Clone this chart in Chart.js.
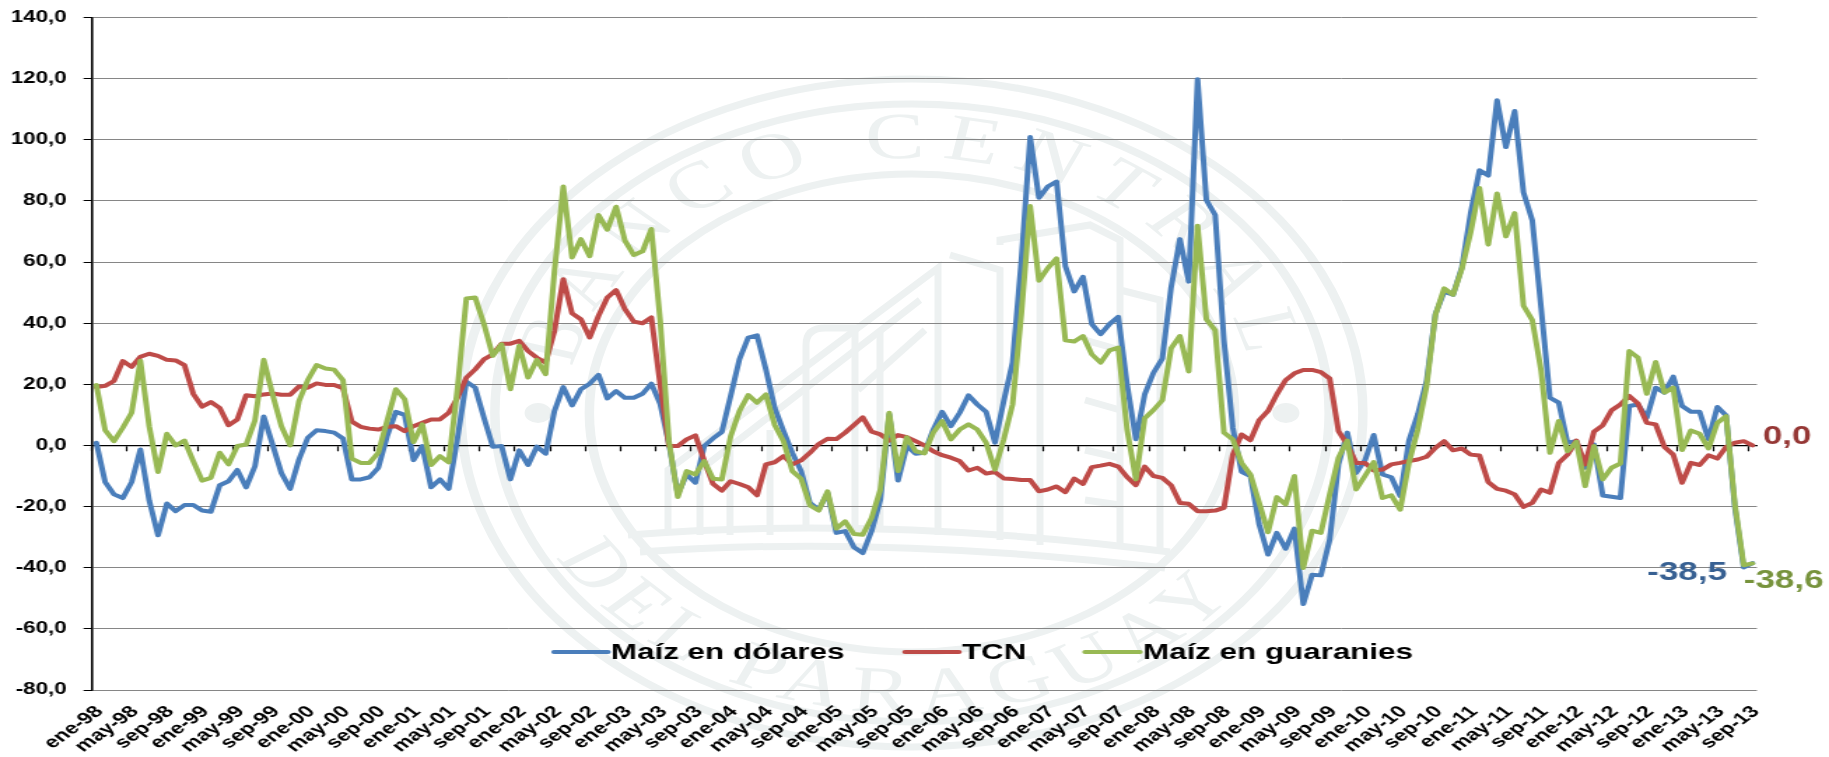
<!DOCTYPE html>
<html lang="es">
<head>
<meta charset="utf-8">
<title>Maíz en dólares, TCN y Maíz en guaranies</title>
<script src="https://cdn.jsdelivr.net/npm/chart.js@4"></script>
<style>
html,body{margin:0;padding:0;background:#fff;overflow:hidden;width:1829px;height:757px}
#seal{position:absolute;left:0;top:0}
#wrap{position:absolute;left:0;top:0;width:1307px;height:757px;transform-origin:0 0;transform:scaleX(1.39939)}
canvas{display:block}
</style>
</head>
<body>
<svg id="seal" width="1829" height="757" viewBox="0 0 1829 757" aria-hidden="true">
  <g transform="translate(912 413) scale(1.35 1)" fill="none" stroke="#edf1f1">
    <circle r="334" stroke-width="7"/>
    <circle r="309" stroke-width="7"/>
    <circle r="239" stroke-width="7"/>
    <path id="arcTop" d="M -255 0 A 255 255 0 0 1 255 0" stroke="none"/>
    <path id="arcBot" d="M -300 0 A 300 300 0 0 0 300 0" stroke="none"/>
    <text font-family="Liberation Serif" font-size="66" fill="#edf1f1" stroke="none" letter-spacing="12"><textPath href="#arcTop" startOffset="50%" text-anchor="middle">BANCO CENTRAL</textPath></text>
    <text font-family="Liberation Serif" font-size="66" fill="#edf1f1" stroke="none" letter-spacing="9"><textPath href="#arcBot" startOffset="48%" text-anchor="middle">DEL PARAGUAY</textPath></text>
    <ellipse cx="-277" cy="0" rx="10" ry="10" fill="#edf1f1" stroke="none"/>
    <ellipse cx="277" cy="0" rx="10" ry="10" fill="#edf1f1" stroke="none"/>
  </g>
  <g fill="none" stroke="#edf1f1" stroke-width="7">
    <path d="M628 535 Q880 515 1170 552"/>
    <path d="M640 552 Q880 535 1165 568"/>
    <path d="M668 535 L668 470 L938 268 L938 535"/>
    <path d="M700 535 L700 470 L920 300"/>
    <path d="M806 530 L806 345 Q806 328 825 328 L855 328 L855 530"/>
    <path d="M858 390 L925 330"/>
    <path d="M950 255 L1000 270 L1000 540"/>
    <path d="M1000 245 L1000 240 L1090 225 L1120 240 L1120 548"/>
    <path d="M1040 270 L1040 545"/>
    <path d="M1120 290 L1160 300 L1160 550"/>
    <path d="M1085 340 L1120 350 M1085 400 L1120 410 M1085 450 L1120 458 M1085 500 L1120 505"/>
    <path d="M730 535 L730 450 M770 535 L770 430 M880 530 L880 330"/>
  </g>
</svg>
<div id="wrap"><canvas id="c" width="1307" height="757"></canvas></div>
<script>
const monthNames = ["ene","feb","mar","abr","may","jun","jul","ago","sep","oct","nov","dic"];
const years = ["98","99","00","01","02","03","04","05","06","07","08","09","10","11","12","13"];
const categories = [];
years.forEach(y => monthNames.forEach(m => { if (categories.length < 189) categories.push(m + "-" + y); }));

const maizDolares = [
 0.9,-12,-16,-17.2,-12,-1.3,-18,-29.4,-19,-21.5,-19.5,-19.5,
 -21.3,-21.7,-13,-11.7,-8,-13.7,-6.8,9.5,0.3,-9,-14.2,-4.6,
 2.5,5,4.7,4.2,2.3,-11.1,-11.1,-10.4,-7.3,3,11,10,
 -4.8,-0.2,-13.7,-11.1,-14.2,2.5,20.9,18.9,9,-0.4,-0.2,-11.1,
 -1.6,-6.4,-0.4,-2.7,11.3,19.1,13.1,18.4,20.2,23.1,15.4,17.8,
 15.6,15.6,16.9,20.2,13.6,0.5,-16,-9.5,-12.2,-0.2,2.3,4.4,
 16.2,28.2,35.3,36,24.9,12.3,4.7,-2.4,-8.4,-18.8,-21,-15.5,
 -28.6,-28,-33.3,-35.2,-28,-17.7,10.2,-11.5,-0.2,-2.7,-2.4,5.2,
 11,6.3,10.7,16.4,13.4,11,0.9,14.5,27.1,60.4,100.9,81,
 84.7,86.3,58.6,50.4,55.2,39.7,36.4,39.7,42.1,20,2,16.7,
 23.8,28.4,51.7,67.5,53.6,119.8,80.3,75.4,34.2,5.8,-8.6,-10,
 -25.9,-35.7,-28.6,-33.8,-27.2,-51.9,-42.3,-42.5,-30.8,-6.2,4.2,-9,
 -4.9,3.4,-9.5,-10.4,-16.6,1.6,10.2,21.1,43,50.3,49.3,58.2,
 76,90,88.3,112.9,97.6,109.4,82.8,73.6,45,15.6,14,0.9,
 1.4,-7.3,0.3,-16.4,-16.8,-17.2,12.9,13.4,9.1,18.9,17.3,22.5,
 12.9,11,11,2,12.6,9.8,-20.4,-39.9,-38.5
];
const tcn = [
 19.1,19.5,21.1,27.6,25.7,29,30,29.3,28,27.8,26.3,16.9,
 12.7,14.2,12.3,6.6,8.5,16.4,16.1,16.7,17,16.6,16.6,19.3,
 18.9,20.3,19.8,19.8,18.7,7.8,6.1,5.5,5.2,6.1,6.3,4.7,
 6.3,7.4,8.5,8.5,10.7,15.6,22.2,24.9,28.2,29.8,33.3,33.3,
 34.2,30.9,28.7,27.1,37.5,54.4,43.2,41.3,35.3,42.4,48.4,50.8,
 44.6,40.5,40,41.9,20,-0.2,-0.2,2,3.3,-5,-12.6,-14.8,
 -11.7,-12.6,-13.7,-16.3,-6.2,-5.5,-3.5,-6.2,-4.9,-2.4,0.5,2.2,
 2.1,4.2,6.7,9.2,4.5,3.6,1.6,3.4,2.7,1.4,0,-1.9,
 -3.2,-4,-5.1,-8.2,-7.3,-9.2,-8.7,-10.8,-11,-11.3,-11.3,-15,
 -14.4,-13.4,-15.3,-10.8,-12.6,-7.1,-6.6,-6,-6.9,-10.3,-13,-6.9,
 -10,-10.6,-13,-18.8,-19.1,-21.5,-21.5,-21.3,-20.4,-3,3.6,1.7,
 8.3,11.3,16.7,21.4,23.6,24.7,24.7,24,21.9,4.7,0.3,-5.7,
 -5.7,-8.2,-7.9,-6.2,-5.7,-5.1,-4.6,-3.7,-0.8,1.4,-1.6,-1,
 -3,-3.3,-12,-14.2,-14.8,-16,-20.1,-18.8,-14.4,-15.5,-5.7,-3,
 1.6,-6.2,4.5,6.6,11.5,13.4,16.2,13.7,7.4,6.9,-0.5,-3,
 -12.2,-5.7,-6.4,-3.2,-4.3,-0.5,0.9,1.4,0
];
const maizGuaranies = [
 19.8,5,1.4,5.8,10.7,27.7,6.3,-8.7,3.8,0,1.6,-5.1,
 -11.5,-10.6,-2.4,-6.2,-0.2,0.3,8.2,28,16.7,6.3,0,14.5,
 21.4,26.3,25.2,24.8,21.3,-4.3,-5.7,-5.7,-2.4,8,18.4,15.1,
 1.1,6.9,-6.4,-3.5,-5.5,18.9,48.1,48.4,39.7,29.3,33.1,18.4,
 32.6,22.2,28,23.3,57,84.7,61.5,67.5,61.9,75.4,70.6,78.1,
 67,62.3,63.5,70.8,41,1.4,-16.9,-8.4,-9.5,-5.1,-10.9,-11.1,
 3,11.3,16.5,14,16.7,6.7,1.4,-8.4,-10.9,-19.6,-21.3,-15,
 -27.2,-24.8,-29,-29.2,-23.7,-14.4,10.7,-8.4,2.7,-1.9,-2.6,4.2,
 8,2,5.2,6.9,5.2,0.9,-7.9,2,13.4,43,78.3,53.9,
 58,61.2,34.4,34,35.8,29.8,27.1,31.1,32,5.2,-11.1,8.9,
 11.6,14.8,31.8,35.8,24.2,71.9,41.3,37.7,4.2,2,-5.7,-9.5,
 -18.8,-28.4,-16.9,-19.3,-10,-40.1,-27.9,-28.6,-16,-4,1.6,-14.4,
 -10,-5.4,-17.2,-16.3,-21,-5.7,5.2,19.5,42.7,51.4,49.3,57.7,
 69.7,84.2,65.7,82.4,68.4,76,45.7,41,24.4,-2.4,8,-1.9,
 1.2,-13.3,-0.2,-11.1,-7.3,-5.9,30.9,28.7,16.9,27.3,17.3,18.9,
 -1.5,4.9,3.8,-1,7.4,9.6,-19.3,-39.2,-38.6
];
const fmt = v => Number(v).toFixed(1).replace(".", ",");
const FONT = "'Liberation Sans', Arial, sans-serif";
const SX = 1.39939;

const legendDraw = {
  id: "legendDraw",
  afterDraw(chart) {
    const ctx = chart.ctx, slots = [[554, 608, 611], [905, 959, 962], [1085, 1140, 1143]], y = 652;
    ctx.save();
    ctx.font = "bold 22.4px " + FONT;
    ctx.textBaseline = "middle"; ctx.textAlign = "left"; ctx.lineCap = "round";
    chart.data.datasets.forEach((d, i) => {
      const [a, b, t] = slots[i];
      ctx.strokeStyle = d.borderColor; ctx.lineWidth = 4;
      ctx.beginPath(); ctx.moveTo(a / SX, y); ctx.lineTo(b / SX, y); ctx.stroke();
      ctx.fillStyle = "#000"; ctx.fillText(d.label, t / SX, y + 1);
    });
    ctx.restore();
  }
};
const endLabels = {
  id: "endLabels",
  afterDatasetsDraw(chart) {
    const ctx = chart.ctx, s = [
      [0, "#376092", "right", -18.3, 10.4],
      [1, "#953735", "left", 7.3, -8],
      [2, "#77933c", "left", -6.3, 18]
    ];
    ctx.save();
    ctx.font = "bold 25px " + FONT; ctx.textBaseline = "middle";
    s.forEach(([i, col, al, dx, dy]) => {
      const pts = chart.getDatasetMeta(i).data, p = pts[pts.length - 1];
      const v = chart.data.datasets[i].data[pts.length - 1];
      ctx.fillStyle = col; ctx.textAlign = al;
      ctx.fillText(fmt(v), p.x + dx, p.y + dy);
    });
    ctx.restore();
  }
};

new Chart(document.getElementById("c"), {
  type: "line",
  data: {
    labels: categories,
    datasets: [
      { label: "Maíz en dólares", data: maizDolares, borderColor: "#4a7ebb", order: 3 },
      { label: "TCN", data: tcn, borderColor: "#be4b48", order: 2 },
      { label: "Maíz en guaranies", data: maizGuaranies, borderColor: "#98b954", order: 1 }
    ]
  },
  plugins: [legendDraw, endLabels],
  options: {
    responsive: false, animation: false, devicePixelRatio: 1,
    layout: { padding: { left: 0, right: 51.5, top: 17.5, bottom: 0 } },
    elements: {
      point: { radius: 0 },
      line: { borderWidth: 4, tension: 0, borderJoinStyle: "round", borderCapStyle: "round" }
    },
    plugins: { legend: { display: false }, tooltip: { enabled: false } },
    scales: {
      y: {
        min: -80, max: 140,
        afterFit(s) { s.width = 65.7; s.paddingTop = 0; s.paddingBottom = 0; },
        ticks: { stepSize: 20, padding: 12, color: "#000", font: { family: FONT, size: 16, weight: "bold" }, callback: fmt },
        grid: { color: "#868686", lineWidth: 1, tickColor: "#000", tickLength: 6 },
        border: { color: "#000", width: 1.6 }
      },
      x: {
        offset: true,
        afterFit(s) { s.height = 67; },
        grid: { display: false },
        border: { display: false },
        ticks: {
          autoSkip: false, maxRotation: 45, minRotation: 45, padding: 4, labelOffset: 2.5, color: "#000",
          font: { family: FONT, size: 16.5, weight: "bold" },
          callback(v, i) { return i % 4 === 0 ? this.getLabelForValue(v) : ""; }
        }
      },
      x2: {
        type: "category", axis: "x", labels: categories, offset: true,
        position: { y: 0 },
        ticks: { display: false, autoSkip: false },
        grid: {
          drawOnChartArea: false, offset: true, tickLength: 5, tickWidth: 1.2,
          tickColor: c => (c.index % 4 === 0 ? "#000" : "rgba(0,0,0,0)")
        },
        border: { color: "#000", width: 1.3 }
      }
    }
  }
});
</script>
</body>
</html>
